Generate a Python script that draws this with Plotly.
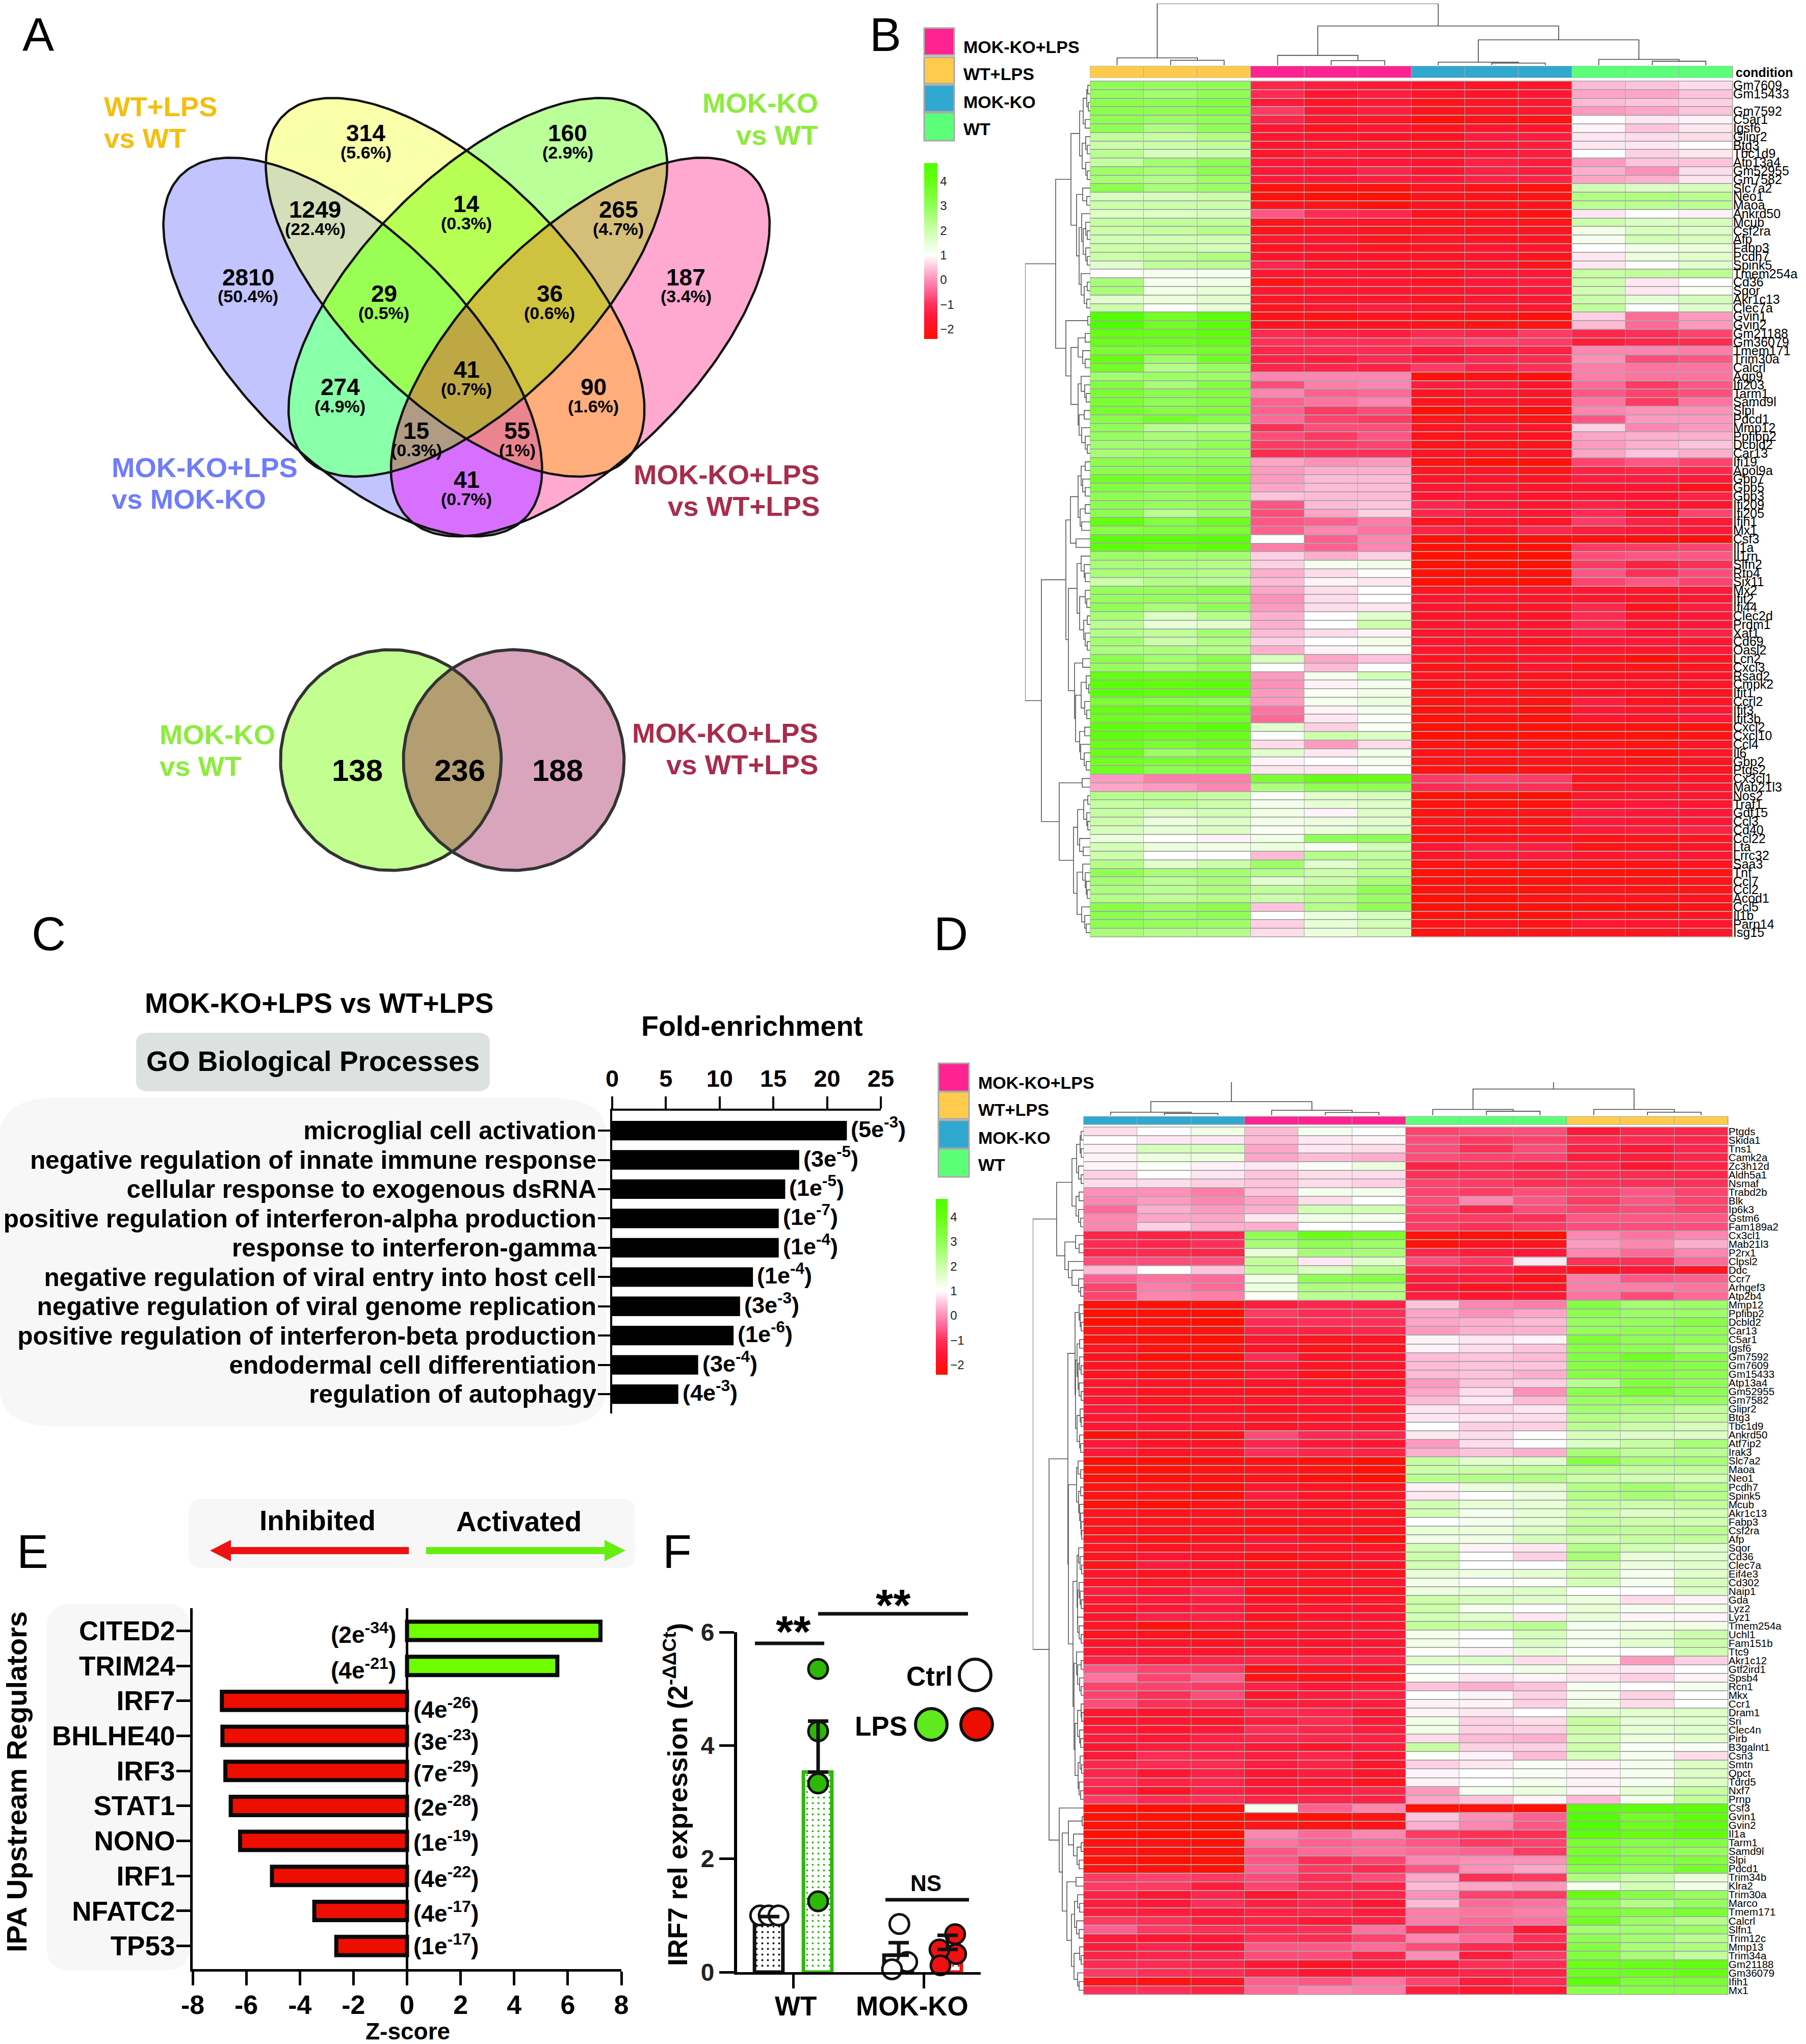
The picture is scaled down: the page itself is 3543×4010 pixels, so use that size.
import plotly.graph_objects as go
import numpy as np

W, H = 3543, 4010
FONT = "Liberation Sans"

# ---------- DATA ----------
genes_b = ["Gm7609","Gm15433","","Gm7592","C5ar1","Igsf6","Glipr2","Btg3","Tbc1d9","Atp13a4","Gm52955","Gm7582","Slc7a2","Neo1","Maoa","Ankrd50","Mcub","Csf2ra","Afp","Fabp3","Pcdh7","Spink5","Tmem254a","Cd36","Sqor","Akr1c13","Clec7a","Gvin1","Gvin2","Gm21188","Gm36079","Tmem171","Trim30a","Calcrl","Aqp9","Ifi203","Tarm1","Samd9l","Slpi","Pdcd1","Mmp12","Ppfibp2","Dcbld2","Car13","Ifi19","Apol9a","Gbp7","Gbp5","Gbp3","Ifi209","Ifi205","Ifih1","Mx1","Csf3","Il1a","Il1rn","Slfn2","Rtp4","Six11","Mx2","Ifit2","Ifi44","Clec2d","Prdm1","Xaf1","Cd69","Oasl2","Lcn2","Cxcl3","Rsad2","Cmpk2","Ifit1","Ccrl2","Ifit3","Ifit3b","Cxcl2","Cxcl10","Ccl4","Il6","Gbp2","Ptgs2","Cx3cl1","Mab21l3","Nos2","Traf1","Gdf15","Ccl3","Cd40","Ccl22","Lta","Lrrc32","Saa3","Tnf","Ccl7","Ccl2","Acod1","Ccl5","Il1b","Parp14","Isg15"]
heat_b = [
[3,2.9,3,-1.2,-1.4,-1.5,-1.7,-1.8,-1.7,.4,.5,.7],
[2.9,2.7,3,-1.1,-1.6,-1.4,-1.7,-1.8,-1.6,.2,.2,.5],
[3.1,3,3.3,-1.5,-1.8,-1.6,-2,-1.8,-1.7,.4,.5,.6],
[3.1,3,3.3,-.9,-1.6,-1.4,-2,-1.8,-1.7,.1,.2,.5],
[3,2.8,3,-1.2,-1.6,-1.8,-2.2,-2,-2.1,1,.8,.9],
[3,2.5,3,-1.6,-1.9,-1.6,-1.9,-1.7,-1.7,.9,.5,.8],
[2.2,2.1,2.5,-1.6,-1.7,-1.8,-1.9,-1.4,-1.4,.8,.7,.7],
[2,2,2.2,-1.7,-1.7,-1.5,-1.8,-1.5,-1.4,.8,.8,1],
[2.3,1.8,2,-1.7,-1.4,-1.6,-1.7,-1.5,-1.4,1,.6,.8],
[2.1,2.7,3,-1.5,-1.6,-1.5,-1.6,-1.3,-1.4,.1,.5,.5],
[2.8,2.6,3.1,-1.5,-1.5,-1.2,-1.6,-1.3,-1.4,.3,0,.7],
[2.6,2.4,2.8,-1.5,-1.5,-1.4,-1.5,-1.3,-1.3,.2,.3,.8],
[3.1,2.6,2.8,-2.2,-2.2,-2.2,-1.9,-2.1,-2.2,1.9,1.7,1.8],
[1.8,1.8,2,-2.2,-2.3,-2.3,-2,-2,-2.1,2.4,2.5,2.3],
[2,2,2,-2,-2,-2.2,-1.9,-2,-2,2.3,2.3,2.3],
[1.7,1.7,1.8,-.6,-1.1,-1.2,-1.9,-2,-2.1,.8,1,.9],
[2.1,2.2,2.2,-2,-1.8,-1.8,-2,-1.9,-2,2,1.7,1.8],
[2,2.1,2.4,-2,-1.8,-1.9,-1.9,-1.9,-1.9,1.3,1.8,1.7],
[1.9,1.9,1.9,-1.7,-1.7,-2,-1.8,-1.9,-1.9,1.2,1.9,1.8],
[2,2,1.8,-1.9,-1.7,-1.9,-1.8,-1.6,-1.7,1,1.3,1.4],
[2,2.2,2.5,-1.7,-1.8,-1.8,-1.8,-1.7,-2,.8,1.4,1.6],
[1.6,2.2,2.3,-1.2,-1.6,-1.7,-1.8,-1.7,-2,.8,1,1.6],
[1,1.2,1.2,-1.6,-1.6,-1.7,-1.8,-1.5,-1.5,2.1,2.2,2.3],
[2.6,1.2,1.3,-2.1,-1.7,-1.6,-1.8,-1.5,-1.4,2,.8,1],
[2.6,1.3,1.5,-1.6,-1.6,-1.7,-1.7,-1.6,-1.5,1.9,.8,1.1],
[1.6,1.4,1.6,-1.8,-1.7,-1.7,-1.9,-1.6,-1.6,2,1.5,1.8],
[2,1.1,1.5,-1.9,-1.7,-1.4,-1.7,-1.6,-1.7,2.2,1,1.6],
[4.6,3.7,4.3,-2,-2.1,-1.9,-2,-2.1,-2.2,.6,-.4,.1],
[4.7,3.7,4.3,-1.9,-1.9,-1.9,-2,-2.1,-2.1,.4,-.4,.1],
[4,3.9,4.2,-1.1,-1.3,-1.4,-1.1,-1.2,-.9,-1.2,-1,-.8],
[3.9,3.8,4.1,-1,-1,-1,-.9,-.8,-.9,-1.4,-1.2,-1.1],
[3.5,3.4,3.6,-1.2,-1.1,-1.1,-1.5,-1.4,-1.3,-.1,-.1,-.2],
[4,2.8,3.7,-1.3,-1.4,-1.1,-1.4,-1.1,-1.1,0,-.7,-.6],
[3.7,2.4,2.9,-1.2,-1.2,-1.3,-.9,-1.2,-1,-.2,-.3,-.3],
[2.7,2.8,2.8,-.1,-.1,-.1,-2.2,-2.1,-2.2,-.2,-.3,-.3],
[3.3,2.6,3.3,-.7,-.2,-.1,-1.4,-1.4,-1.7,-.4,-.9,-.6],
[3.5,3.1,3.3,-.1,-.5,-.4,-1.9,-1.6,-1.8,-.6,-.8,-.7],
[3.5,3,3.3,-.5,-.3,-.1,-1.9,-1.7,-1.8,-.3,-.9,-.3],
[3.6,3.2,3.4,-.5,-.9,-.7,-2.3,-2.1,-2.2,-.1,0,0],
[3.2,3.6,3.2,-.4,-.8,-.9,-2,-1.9,-2.1,-.6,.1,.1],
[3,2.3,2.4,-1,-.7,-.7,-1.9,-1.6,-1.8,.6,-.1,.1],
[2.9,2.6,2.8,-.7,-.9,-.6,-2,-1.9,-1.9,.2,.3,.3],
[2.7,2.7,3,-.9,-.9,-.8,-2,-2,-2,.1,.3,.5],
[2.6,2.8,2.9,-1.1,-1,-1,-1.8,-1.9,-1.8,.2,.5,.3],
[3.1,3,3.1,.2,0,.1,-2.1,-2.3,-2.2,-.8,-.6,-.8],
[3.1,3,3.2,.1,.3,.3,-1.9,-1.8,-2,-1.3,-1.2,-1.2],
[3.7,3.5,3.6,.1,.4,.4,-1.8,-1.7,-1.9,-1.4,-1.4,-1.5],
[3.3,3,3.3,.2,.4,.4,-1.6,-1.6,-1.7,-1.7,-1.6,-2],
[3,2.9,3,.5,.4,.4,-1.6,-1.5,-1.7,-1.6,-1.6,-1.3],
[3.1,2.9,3,-.6,.4,.5,-1.2,-1.5,-1.7,-1.3,-1.5,-1.7],
[3.1,2.3,2.8,-.7,.2,.6,-1.2,-1.4,-1.6,-1.1,-1.7,-.8],
[4.1,3.3,3.8,-.6,-.5,-.2,-1.9,-1.7,-1.8,-.9,-1.3,-1.5],
[3.2,3.3,3.5,-.5,-.1,-.3,-1.3,-1.6,-1.2,-1.4,-1.5,-1.5],
[4.3,4.2,4.4,1,-.5,-.1,-2.2,-2.2,-2.2,-2.1,-2.2,-2.2],
[4.3,4,4.2,-.2,-.5,-.1,-2.3,-2.3,-2.3,-.9,-.9,-.8],
[2.8,2.7,2.7,.6,.3,.6,-2.3,-2.3,-2.3,-.7,-.6,-.6],
[2.6,2.5,2.4,.6,1.2,1.3,-2.3,-2.3,-2.3,-.9,-1.3,-1],
[2.6,2.5,2.4,.3,.7,1,-2.3,-2.2,-2.2,-.6,-1,-.7],
[2,2.4,2.3,.4,.9,.8,-2.3,-2.3,-2.3,-.8,-.6,-.8],
[2.9,2.9,3.2,.2,.7,1,-1.9,-1.7,-1.7,-1.6,-1.7,-1.5],
[2.9,2.9,2.8,0,.7,1,-1.7,-1.7,-1.8,-1.7,-1.8,-1.6],
[3,2.6,3,.1,.7,.8,-1.7,-1.9,-1.8,-1.2,-2,-1.4],
[2.6,1.7,2.4,.3,1,1.6,-1.8,-1.7,-1.8,-1.1,-1.7,-1.5],
[2.3,1.5,1.6,.3,1,2,-1.7,-1.6,-1.7,-1.1,-1.6,-1.5],
[2.4,2.2,2.7,.4,.7,.9,-1.7,-1.6,-1.6,-1.3,-1.6,-1.3],
[2.7,2,2.5,.6,1,1.3,-1.7,-1.7,-1.9,-1.5,-1.5,-1.6],
[2.5,2.5,2.4,.3,.9,1.1,-1.7,-1.8,-1.8,-1.6,-1.7,-1.5],
[3.1,2.7,3.1,1.8,.2,.5,-1.9,-1.9,-1.7,-2,-2.2,-1.9],
[2.9,2.6,2.9,1,.4,1,-2,-2,-1.7,-2,-2,-1.9],
[4,3.9,4,.1,1.2,1.9,-1.9,-1.9,-2,-1.9,-1.9,-1.8],
[4.3,4.1,4.2,0,.9,1.2,-2,-1.9,-1.9,-1.8,-1.8,-1.8],
[4.3,4.1,4.2,.1,1.1,1.3,-2.1,-1.9,-2,-1.8,-1.9,-1.9],
[3.5,3.2,3,.1,1.2,1.4,-2.1,-2,-2.1,-1.4,-1.9,-1.8],
[4,3.9,3.9,-.3,.9,1.2,-2.2,-2.1,-2.2,-1.6,-1.7,-1.6],
[3.8,3.6,3.6,-.4,.8,1.1,-2.2,-2.1,-2.2,-1.7,-1.8,-1.5],
[4.2,4,4.4,1.6,.6,1.1,-2.3,-2.2,-2.2,-2.2,-2.2,-2.2],
[4.2,3.9,3.9,1,2,1.7,-2.3,-2.2,-2.2,-2.2,-2.2,-2.1],
[3.9,3.5,3.8,.7,.1,.7,-2.1,-2.2,-2.1,-2,-2.1,-1.8],
[3.9,2.8,3.1,1.6,.8,1.3,-2,-2,-2,-2,-2.2,-1.8],
[3.7,3.5,3.6,.9,1,1.2,-2.1,-2,-2,-2,-2.1,-1.9],
[3.7,3.1,3.2,.8,.8,1,-2.1,-2.2,-2.1,-2,-1.9,-1.9],
[.1,-.2,-.2,3.5,4,3.9,-.9,-.8,-.9,-1.9,-1.8,-1.8],
[.2,.1,-.1,2.5,3,3,-1.1,-1,-1,-1.9,-1.8,-1.7],
[2.4,2.3,2.1,1.1,1.6,1.8,-2.3,-2.3,-2.4,-1.7,-1.6,-1.7],
[2.1,2.2,2,1.2,1.5,1.7,-2.2,-2.2,-2.2,-1.6,-1.5,-1.6],
[2.1,1.7,1.9,1.3,.9,1.7,-2.1,-2.1,-2,-1.4,-1.5,-1.5],
[2,1.4,1.7,1.3,1.4,1.6,-2,-2,-2.1,-1.5,-1.6,-1.5],
[1.8,1.5,1.7,1.1,1.4,1.7,-2,-2.1,-2,-1.5,-1.4,-1.3],
[1.4,1,.9,1.3,3,3,-2.2,-2,-1.9,-2.1,-2,-1.9],
[1.9,1.4,1.3,1.4,1.2,1.9,-1.6,-1.3,-1.4,-2,-2,-1.8],
[2,1,1,.4,2.4,2.2,-1.8,-1.5,-1.4,-1.7,-1.5,-1.6],
[2.4,1.6,2,2.8,1.6,2.2,-2.1,-2.1,-2.1,-2.1,-2,-1.9],
[3,2.6,2.7,2.4,2,2.3,-2.3,-2.3,-2.3,-2.2,-2.2,-2.1],
[2.7,2.3,2.6,1.6,2,2.6,-2.2,-2.2,-2.2,-2.1,-2.1,-2],
[2.5,2.3,2.5,2.2,2.4,3,-2.2,-2.2,-2.2,-2,-2.1,-2],
[2.4,2.2,2.4,2,2.3,2.8,-2.3,-2.2,-2.1,-2,-1.9,-1.9],
[3.2,2.9,3.1,.5,2.4,3,-2.2,-2.2,-2.2,-2.2,-2.2,-2.1],
[3.1,2.8,3,1,1.4,1.8,-2.2,-2.2,-2.2,-1.9,-1.9,-1.8],
[3,2.9,2.8,.6,1.5,1.9,-2.1,-2,-2.1,-1.6,-1.7,-1.7],
[2.6,2.4,2.4,.7,1.4,1.8,-2.1,-2,-2,-1.9,-1.9,-1.8],
]
groups_b = [1,1,1,0,0,0,2,2,2,3,3,3]

genes_d = ["Ptgds","Skida1","Tns1","Camk2a","Zc3h12d","Aldh5a1","Nsmaf","Trabd2b","Blk","Ip6k3","Gstm6","Fam189a2","Cx3cl1","Mab21l3","P2rx1","Clpsl2","Ddc","Ccr7","Arhgef3","Atp2b4","Mmp12","Ppfibp2","Dcbld2","Car13","C5ar1","Igsf6","Gm7592","Gm7609","Gm15433","Atp13a4","Gm52955","Gm7582","Glipr2","Btg3","Tbc1d9","Ankrd50","Atf7ip2","Irak3","Slc7a2","Maoa","Neo1","Pcdh7","Spink5","Mcub","Akr1c13","Fabp3","Csf2ra","Afp","Sqor","Cd36","Clec7a","Eif4e3","Cd302","Naip1","Gda","Lyz2","Lyz1","Tmem254a","Uchl1","Fam151b","Ttc9","Akr1c12","Gtf2ird1","Spsb4","Rcn1","Mkx","Ccr1","Dram1","Sri","Clec4n","Pirb","B3galnt1","Csn3","Smtn","Qpct","Tdrd5","Nxf7","Prnp","Csf3","Gvin1","Gvin2","Il1a","Tarm1","Samd9l","Slpi","Pdcd1","Trim34b","Klra2","Trim30a","Marco","Tmem171","Calcrl","Slfn1","Trim12c","Mmp13","Trim34a","Gm21188","Gm36079","Ifih1","Mx1"]
heat_d = [
[.7,1,1.3,.4,1.2,1,-.8,-.7,-.7,-1.5,-1.2,-1.2],
[1,.8,.8,.4,.8,.9,-.7,-.9,-.8,-1.1,-1.1,-1.2],
[.9,1.8,1.8,.2,.8,.7,-.7,-1,-.7,-1.3,-1.5,-1.2],
[.9,1.4,1.4,.2,.4,.3,-.7,-.8,-.8,-1.4,-1.4,-1.2],
[.9,1.1,.9,.8,1.1,1.4,-1.3,-1.1,-1.3,-1.2,-1.6,-1.3],
[.6,1,.8,.5,.7,.7,-1,-1,-1.1,-1.1,-1.1,-1.2],
[.7,.7,.6,.5,.7,.6,-.8,-.9,-1,-1,-1,-1],
[0,0,-.2,.5,1.2,1.2,-.8,-.9,-.7,-.8,-.6,-.8],
[-.1,.1,-.1,.2,.7,1,-.7,-.1,-.6,-.9,-.6,-.8],
[-.4,.3,.1,.3,1.9,1.9,-.8,-1.2,-.7,-.8,-.7,-.8],
[-.1,.2,.2,.8,1.3,1.2,-.9,-.9,-1,-.6,-.6,-.6],
[-.1,.6,.3,.3,1,1,-.9,-1,-.9,-.7,-.7,-.7],
[-1.2,-1.3,-1.2,3,3.9,3.6,-2.2,-2.2,-2.3,-.1,-.3,-.1],
[-1.1,-1.2,-1,2.6,3,2.8,-2.2,-1.9,-1.9,.1,-.1,.3],
[-1.2,-1.1,-1.2,1.5,2.6,2.6,-1.2,-1.4,-1.5,-.1,-.4,-.1],
[-.7,-.7,-.7,2.2,.8,1.6,-.7,-.9,.8,-1,-1,-.4],
[.4,1,.5,2.2,1.7,2.3,-1.2,-1.3,-1.6,-1.9,-1.5,-1.8],
[-.5,-.3,-.4,1.3,3,3.2,-1.4,-1.4,-2,-.2,-.6,-.5],
[-.8,-.2,-.4,1.4,2.5,2.5,-1.5,-1.9,-1.8,-.2,-.2,-.3],
[-.8,-.1,-.2,1.1,2.3,2.4,-1.4,-1.6,-1.5,-.3,-.7,-.4],
[-2.2,-2.2,-2.1,-1.4,-1.2,-1.3,.5,-.1,-.2,3.3,2.7,2.8],
[-2.3,-2.2,-2.3,-.9,-1.1,-1,.2,0,.2,3.1,2.8,2.8],
[-2.4,-2.3,-2.4,-1.1,-1,-1,.2,.3,.4,2.9,2.9,3.2],
[-2,-2.1,-2.1,-1.3,-1.3,-1.2,.1,.3,.3,2.9,3,3],
[-2.2,-2.3,-2.4,-1.6,-1.9,-1.8,.9,.8,.9,3.4,3,3],
[-1.9,-2.1,-2.1,-1.8,-2,-1.9,.9,.7,.5,3.2,3,2.6],
[-1.9,-2.2,-2.2,-1.1,-1.8,-1.7,.4,.5,.4,3.3,3.7,3.2],
[-1.9,-2,-2,-1.6,-1.8,-1.7,.4,.5,.5,3.2,3.3,3.2],
[-1.9,-2.1,-2,-1.5,-2,-1.7,.4,.5,.3,3.2,3.3,3.1],
[-1.7,-1.8,-1.9,-1.8,-1.7,-1.9,.1,.5,.6,2.3,3.3,3],
[-1.7,-1.9,-1.8,-1.9,-1.7,-1.5,.2,.7,0,3.1,3.5,3],
[-1.6,-1.9,-1.8,-1.7,-1.6,-1.6,.4,.8,.4,2.8,2.8,2.9],
[-1.5,-1.8,-1.8,-1.9,-1.8,-2,.8,.6,.8,2.7,2.5,2.2],
[-1.6,-1.8,-1.7,-1.8,-1.8,-1.7,.8,.8,.7,2.4,2.3,2.1],
[-1.6,-1.5,-1.7,-1.8,-1.6,-1.7,1,.6,.6,2.3,2,1.8],
[-2.2,-2,-2.1,-.7,-1.1,-1.2,.8,.7,1,1.8,1.7,1.7],
[-1.5,-1.8,-1.8,-1.2,-1.5,-1.6,.1,.7,1,1.7,2.1,2.6],
[-1.5,-1.8,-1.7,-1,-1.2,-1.3,.3,.5,.3,2.6,2.2,2.3],
[-2.4,-2.3,-2.2,-2.1,-2.2,-2.3,2.1,1.6,1.6,3.2,2.6,2.6],
[-2.3,-2.2,-2.1,-2,-2.1,-2.3,2,2,2.2,2.3,2.1,2.2],
[-2.2,-2.2,-2.1,-2,-2.2,-2.3,2.3,2.4,2.4,2,1.9,1.9],
[-2.1,-2,-2.2,-1.7,-1.9,-1.9,.9,1.4,1.6,2.4,2.7,2.4],
[-2.1,-2,-2.2,-1.4,-1.8,-1.8,.8,1,1.4,2.4,2.6,2.4],
[-2.2,-2.3,-2,-1.8,-1.9,-1.8,1.9,1.5,1.5,2.1,2,2.2],
[-1.9,-2,-1.9,-1.8,-1.8,-1.9,1.9,1.2,1.5,2,1.7,1.9],
[-2,-2,-1.9,-2,-1.9,-1.9,1,1.2,1.5,2.1,2,1.9],
[-2,-1.9,-2,-2.1,-2,-1.9,1.5,1.4,1.7,2.3,2.2,2.3],
[-1.9,-2.1,-1.9,-1.6,-1.8,-2.2,1.3,1.3,1.8,1.9,2.1,2.2],
[-1.9,-1.9,-1.8,-1.7,-1.8,-1.8,1.9,.9,.8,2.4,1.9,1.6],
[-1.9,-1.6,-1.8,-2.1,-1.8,-1.7,2,1,.6,2.6,1.5,1.6],
[-2,-1.4,-1.7,-2,-2,-1.8,1.9,1,1,2,1.4,1.6],
[-1.7,-1.9,-1.8,-1.7,-1.8,-1.9,1.5,1.3,1.5,2,1.2,1.6],
[-1.8,-1.8,-1.6,-1.8,-1.8,-1.7,1.3,1,1.1,1.9,1.2,1.8],
[-1.4,-1.5,-1.2,-2,-2,-1.9,1.4,1.5,1.7,1,1,1.7],
[-1.6,-1.5,-1.4,-1.8,-1.8,-1.7,2,1.8,1.6,1.4,.7,.9],
[-1.7,-1.5,-1.4,-1.7,-1.7,-1.7,2,1.2,1,1.5,1.2,1.3],
[-1.7,-1.3,-1.3,-1.9,-1.7,-1.6,1.9,1.6,.8,1.5,.9,.9],
[-1.8,-2.2,-1.8,-1.9,-1.7,-1.6,2.2,2.1,2.3,1.2,1.3,1.3],
[-1.9,-1.9,-2,-1.7,-1.7,-1.5,1.2,1,1.8,1.2,1.5,2],
[-1.7,-1.7,-1.8,-1.7,-1.7,-1.6,1.3,1,1.7,1.2,1.6,2],
[-1.6,-1.6,-1.7,-1.6,-1.7,-1.5,1,.9,1.5,1,1,1.9],
[-1.3,-1.4,-1.2,-1.2,-1.2,-1.3,1.6,1.7,.7,1.3,.1,.6],
[-.6,-.8,-.9,-2,-1.8,-1.8,1,1,1.3,.8,.8,1],
[-.3,-.8,-.5,-2,-2,-1.9,1.1,.8,.9,.8,.6,.9],
[-.8,-.8,-.9,-1.3,-1.5,-1.4,.5,.3,.5,1.2,1,1.2],
[-.8,-1,-.7,-1.7,-1.4,-1.3,1,.9,.6,1.2,.6,1],
[-.7,-1,-1.1,-1.4,-1.4,-1.4,.9,.9,.6,1.3,.7,1],
[-1.6,-1.7,-1.5,-1.1,-1.2,-1.6,.9,.8,1,1.6,1.6,1.7],
[-1.7,-1.6,-1.7,-1.4,-1.1,-1.5,1.3,.6,.7,2.1,1.5,1.6],
[-1.5,-1.7,-1.5,-1,-1.2,-1.4,1.3,.6,.6,2,1.5,1.6],
[-1.4,-1.5,-1.3,-1.2,-1.2,-1.3,.7,.4,.3,1.9,1.4,1.6],
[-1.6,-1.4,-1.3,-1.5,-1.7,-1.4,2.1,.6,.6,2,1.1,1.1],
[-1.5,-1.1,-1.2,-1.4,-1.2,-1.6,1.1,.9,.4,1.8,1.2,.7],
[-1.2,-1.1,-1.1,-1.4,-1.3,-1.7,.6,.8,1.1,.9,1.2,1.7],
[-1.2,-1.6,-1.3,-1.6,-1.4,-1.7,.9,1,1.1,.9,1.2,1.7],
[-1.1,-1.3,-1.2,-1.6,-1.7,-1.9,.9,1,1.2,.9,1.2,1.7],
[-1.3,-1.8,-1.3,-1.5,-1.4,-1.2,.1,1.2,1.4,.9,1.5,2.1],
[-.9,-1.1,-1,-1.3,-1.2,-1.3,.2,.5,.9,.4,1.3,2.2],
[-2.3,-2.3,-2.3,1.2,-.5,-.1,-2.3,-2.2,-2.3,4.3,4.2,4.2],
[-2.3,-2.3,-2.3,-2.2,-2.3,-2.1,.5,0,-.5,4.6,3.7,4.2],
[-2.2,-2.2,-2.3,-2,-2.1,-2,.3,-.1,-.6,4.7,3.8,4.2],
[-2.3,-2.4,-2.4,-.1,-.4,-.1,-.9,-1,-1,4.3,4,4.2],
[-2.1,-2.1,-2.2,-.3,-.5,-.4,-.6,-.9,-.8,3.5,3.2,3.3],
[-2.1,-2.2,-2.2,-.6,-.4,-.3,-.4,-.5,-.9,3.5,3.1,2.9],
[-2.3,-2.4,-2.3,-.6,-1,-.8,-.1,0,0,3.6,3.2,3.3],
[-2.1,-2.2,-2.3,-.5,-.9,-1.1,-.6,0,.2,3.2,3,3.6],
[-.9,-.8,-.9,-.7,-1,-.7,.2,-1,-.9,2.5,2,1.4],
[-.9,-.9,-1.4,-.8,-1.1,-1.3,.4,.2,.1,1.2,1.9,1.3],
[-1.3,-1.6,-1.2,-1.6,-1.3,-1.2,0,-.8,-.9,4,3.2,2.9],
[-1.4,-1.5,-1,-1.3,-1.2,-1.6,.4,-.4,-.3,3,2.4,2.9],
[-1.4,-1.4,-1.5,-1.3,-1.2,-1.4,-.2,-.3,-.2,3.5,3.3,3.5],
[-.9,-1,-1.4,-1.3,-1.5,-1.3,-.2,-.4,-.3,3.7,2.8,2.4],
[-.5,-.9,-1,-1.1,-1,-.3,-1,-.6,-1.5,2.7,2.7,2.8],
[-1.4,-1.6,-1.5,-1,-1.1,-.8,-.1,-.4,-1,3,2.7,2.3],
[-1.4,-1.2,-1.5,-.6,-.6,-.4,-.7,-1.1,-1.4,3.3,2.6,2.5],
[-1.3,-1.2,-1.2,-.7,-.7,-1.2,0,-1.4,-.9,3.3,2.6,2.2],
[-1.1,-1.1,-1.2,-1.5,-1.8,-1.5,-1.4,-1,-1.1,3.9,3.9,4.1],
[-.9,-1,-1.1,-1.3,-1.6,-1.4,-1.4,-1.2,-1.3,3.8,3.8,4],
[-2,-2.1,-1.8,-.5,-.6,-.3,-.8,-1.4,-1.1,4.2,3.4,3.5],
[-1,-1,-1.3,-.4,-.1,-.2,-1.4,-1.6,-1.5,3.1,3.2,3.2],
]
groups_d = [2,2,2,0,0,0,3,3,3,1,1,1]
condition_names = ["MOK-KO+LPS","WT+LPS","MOK-KO","WT"]
condition_colors = ["#FE2390","#FFCB4C","#30A8D0","#5CFF78"]

# dendrograms: [height, left, right], 0 = one leaf, taken in order
col_tree_b = [121,[14.5,0,[9.7,0,0]],[77,[19.4,0,[9,0,0]],[49.7,[6,0,[4.2,0,0]],[11.5,0,[7.9,0,0]]]]]
col_tree_d = [65,[26.7,[6,0,[3.6,0,0]],[9.7,0,[5.5,0,0]]],[51.5,[11.5,0,[7.9,0,0]],[11.5,0,[6,0,0]]],"open"]
row_tree_b = [128,
 [68,
  [38,
   [21,[14,[7,[5,0,0],[4,0,0]],[10,0,0]],[16,[9,0,[6,0,0]],[9,0,[6,0,0]]]],
   [27,[15,0,[7,0,0]],
    [22,[17,0,[14,[9,0,[6,0,0]],[9,0,[6,0,0]]]],[18,0,[12,[6,0,0],[7,0,0]]]]]],
  [48,[5,0,0],
   [38,[24,[10,0,0],[15,0,[10,0,0]]],
    [24,[18,0,[11,0,[8,0,0]]],[22,[12,0,0],[17,0,[10,0,[6,0,0]]]]]]]],
 [96,
  [48,
   [39,[24,[18,[10,0,0],[15,0,[10,0,0]]],[20,[10,0,0],[17,0,0]]],[28,0,0]],
   [43,
    [26,[18,0,[12,0,[10,0,0]]],[21,[10,0,[7,0,0]],[13,[6,0,0],[10,0,[6,0,0]]]]],
    [31,[15,0,0],[29,[18,[8,0,[3,0,0]],[11,0,[7,0,0]]],[21,[11,0,0],[19,0,[12,0,[8,0,0]]]]]]]],
  [61,[16,0,0],
   [33,
    [25,[13,[5,0,0],[7,0,[5,0,0]]],[21,0,[14,0,0]]],
    [26,[15,0,[10,0,[8,0,[6,0,0]]]],[17,0,[11,0,[8,0,0]]]]]]]]
row_tree_d = [100,
 [53,
  [23,[14,[7,[5,0,0],[5,0,0]],[10,0,[5,0,0]]],[15,[9,0,0],[10,0,[6,0,0]]]],
  [37,[16,0,[9,0,0]],[30,0,[23,0,[10,0,[6,0,0]]]]]],
 [68,
  [31,
   [17,[9,0,[7,0,[5,0,0]]],[16,[13,[8,0,0],[11,[8,0,[5,0,0]],[9,0,[5,0,0]]]],[13,[7,0,[5,0,0]],[8,0,[6,0,0]]]]],
   [30,
    [14,[11,0,[6,0,0]],[10,[6,0,0],[8,0,[6,0,[5,0,[4,0,0]]]]]],
    [21,
     [13,[10,0,[7,0,[4,0,0]]],[12,[9,0,[7,0,[5,0,0]]],[12,0,[9,0,[5,0,0]]]]],
     [19,[14,0,[12,[5,0,0],[8,0,[5,0,0]]]],[17,[12,[5,0,[4,0,0]],[8,0,[6,0,0]]],[11,[7,0,[4,0,0]],[9,0,[6,0,0]]]]]]]],
  [48,0,
   [42,
    [30,[3,0,0],[20,0,[13,[5,0,0],[9,0,0]]]],
    [33,[15,0,0],
     [24,[18,[12,0,[8,0,0]],[14,0,[9,0,0]]],[19,[8,0,[5,0,0]],[12,0,[9,0,0]]]]]]]]]

venn_counts = ["2810","1249","314","14","160","265","187","29","36","274","41","90","15","55","41"]
venn_pcts = ["(50.4%)","(22.4%)","(5.6%)","(0.3%)","(2.9%)","(4.7%)","(3.4%)","(0.5%)","(0.6%)","(4.9%)","(0.7%)","(1.6%)","(0.3%)","(1%)","(0.7%)"]
two_set_counts = ["138","236","188"]

go_terms = ["microglial cell activation","negative regulation of innate immune response","cellular response to exogenous dsRNA","positive regulation of interferon-alpha production","response to interferon-gamma","negative regulation of viral entry into host cell","negative regulation of viral genome replication","positive regulation of interferon-beta production","endodermal cell differentiation","regulation of autophagy"]
go_fold = [21.84,17.4,16.1,15.5,15.5,13.1,11.9,11.3,8.0,6.15]
go_p = ["(5e<sup>-3</sup>)","(3e<sup>-5</sup>)","(1e<sup>-5</sup>)","(1e<sup>-7</sup>)","(1e<sup>-4</sup>)","(1e<sup>-4</sup>)","(3e<sup>-3</sup>)","(1e<sup>-6</sup>)","(3e<sup>-4</sup>)","(4e<sup>-3</sup>)"]

ipa_names = ["CITED2","TRIM24","IRF7","BHLHE40","IRF3","STAT1","NONO","IRF1","NFATC2","TP53"]
ipa_z = [7.22,5.61,-6.91,-6.89,-6.78,-6.58,-6.23,-5.04,-3.46,-2.64]
ipa_p = ["(2e<sup>-34</sup>)","(4e<sup>-21</sup>)","(4e<sup>-26</sup>)","(3e<sup>-23</sup>)","(7e<sup>-29</sup>)","(2e<sup>-28</sup>)","(1e<sup>-19</sup>)","(4e<sup>-22</sup>)","(4e<sup>-17</sup>)","(1e<sup>-17</sup>)"]

irf7_pos = [-0.5,0.5,2.146,3.146]
irf7_mean = [0.98,3.53,0.3,0.4]
irf7_err = [0,0.9,0.22,0.25]
irf7_wt_ctrl_x, irf7_wt_ctrl = [-0.675,-0.5,-0.3],[1,1,1]
irf7_wt_lps_x, irf7_wt_lps = [0.51,0.51,0.51,0.51],[5.35,4.25,3.33,1.25]
irf7_ko_ctrl_x, irf7_ko_ctrl = [2.17,2.33,2.02],[0.85,0.18,0.05]
irf7_ko_lps_x, irf7_ko_lps = [3.31,3.33,2.99,3.01],[0.67,0.32,0.4,0.12]

# ---------- HELPERS ----------
fig = go.Figure()
layout = dict(width=W, height=H, margin=dict(l=0,r=0,t=0,b=0), paper_bgcolor="white", plot_bgcolor="rgba(0,0,0,0)",
              showlegend=False, font=dict(family=FONT, color="black"), template="none")
shapes, annos = [], []
n_ax = 0
def hidden(): return dict(visible=False, showgrid=False, zeroline=False, fixedrange=True)
def ax(xpx, ypx, xr, yr, xo=None, yo=None):
    global n_ax
    n_ax += 1
    n = n_ax
    sx = "" if n == 1 else str(n)
    xa = hidden(); xa.update(domain=[xpx[0]/W, xpx[1]/W], range=list(xr), anchor=f"y{sx}")
    ya = hidden(); ya.update(domain=[1-ypx[1]/H, 1-ypx[0]/H], range=list(yr), anchor=f"x{sx}")
    if xo: xa.update(xo)
    if yo: ya.update(yo)
    layout[f"xaxis{sx}"] = xa
    layout[f"yaxis{sx}"] = ya
    return f"x{sx}", f"y{sx}"

# full page axis in pixel units
PX, PY = ax((0,W),(0,H),(0,W),(H,0))
def T(x, y, text, size, color="black", bold=True, anchor="center", rot=0, xref=None, yref=None, xs=0, ys=0):
    f = dict(family=FONT, size=size, color=color, weight=700 if bold else 400)
    annos.append(dict(x=x, y=y, xref=xref or PX, yref=yref or PY, text=text, font=f, showarrow=False,
                      xanchor=anchor, yanchor="middle", textangle=rot, xshift=xs, yshift=ys, borderpad=0, borderwidth=0))
def rrect(x0,y0,x1,y1,rx,ry,color):
    p = (f"M{x0+rx},{y0} L{x1-rx},{y0} Q{x1},{y0} {x1},{y0+ry} L{x1},{y1-ry} Q{x1},{y1} {x1-rx},{y1} "
         f"L{x0+rx},{y1} Q{x0},{y1} {x0},{y1-ry} L{x0},{y0+ry} Q{x0},{y0} {x0+rx},{y0} Z")
    shapes.append(dict(type="path", path=p, xref=PX, yref=PY, fillcolor=color, line=dict(width=0), layer="below"))
def poly(pts,color):
    p = "M"+" L".join(f"{a},{b}" for a,b in pts)+" Z"
    shapes.append(dict(type="path", path=p, xref=PX, yref=PY, fillcolor=color, line=dict(width=0), layer="below"))

# ---------- VENN ----------
Z = 1750/1568
def ellipse(cx,cy,a,b,deg,n=240):
    t = np.linspace(0,2*np.pi,n,endpoint=False)
    c,s = np.cos(np.radians(deg)),np.sin(np.radians(deg))
    return np.c_[cx+a*np.cos(t)*c-b*np.sin(t)*s, cy+a*np.cos(t)*s+b*np.sin(t)*c]
def clip(sub, cl):
    area = np.sum(cl[:,0]*np.roll(cl[:,1],-1)-np.roll(cl[:,0],-1)*cl[:,1])
    o = 1 if area>0 else -1
    out = list(map(tuple,sub))
    for i in range(len(cl)):
        a,b = cl[i],cl[(i+1)%len(cl)]
        inp,out = out,[]
        if not inp: break
        ins = lambda p:((b[0]-a[0])*(p[1]-a[1])-(b[1]-a[1])*(p[0]-a[0]))*o>=0
        for j in range(len(inp)):
            p,q = inp[j],inp[(j+1)%len(inp)]
            pi,qi = ins(p),ins(q)
            if pi: out.append(p)
            if pi!=qi:
                d1=(b[0]-a[0])*(p[1]-a[1])-(b[1]-a[1])*(p[0]-a[0])
                d2=(b[0]-a[0])*(q[1]-a[1])-(b[1]-a[1])*(q[0]-a[0])
                t=d1/(d1-d2)
                out.append((p[0]+t*(q[0]-p[0]),p[1]+t*(q[1]-p[1])))
    return np.array(out) if out else np.zeros((0,2))
E4 = {"B":ellipse(620*Z,610*Z,427*Z,198*Z,45),"Y":ellipse(800*Z,505*Z,427*Z,198*Z,45),
      "G":ellipse(840*Z,505*Z,427*Z,198*Z,-45),"P":ellipse(1020*Z,610*Z,427*Z,198*Z,-45)}
region_colors = {"B":"#C1C4FF","Y":"#FAFFA9","G":"#BBFF99","P":"#FFA8D0","BY":"#D4DEB8","BG":"#88FFA8","BP":"#D870FF",
  "YG":"#B8FF55","YP":"#FFAD7A","GP":"#D4BE78","BYG":"#99FF55","BYP":"#EA8590","BGP":"#B09C85","YGP":"#CFC23E","BYGP":"#BDA844"}
def fill(pts,color,line=None,lw=0):
    pts = np.vstack([pts,pts[:1]])
    fig.add_trace(go.Scatter(x=pts[:,0],y=pts[:,1],xaxis=PX,yaxis=PY,mode="lines" if line else "none",
        fill="toself" if color else None, fillcolor=color, line=dict(color=line or "black",width=lw), hoverinfo="skip"))
for key in sorted(region_colors,key=len):
    p = E4[key[0]]
    for k in key[1:]:
        p = clip(p,E4[k])
    if len(p)>2: fill(p,region_colors[key])
for k in "BYGP":
    fill(E4[k],None,"#111111",4.5)
C1,C2 = ellipse(687*Z,1336*Z,194*Z,194*Z,0),ellipse(903*Z,1336*Z,194*Z,194*Z,0)
fill(C1,"#C3FF90"); fill(C2,"#D9A5BC"); fill(clip(C1,C2),"#B39E72")
fill(C1,None,"#333333",6); fill(C2,None,"#333333",6)
venn_pos = [(436,487),(554,368),(643,234),(820,358),(998,234),(1087,368),(1206,487),(675,516),(966,516),(598,680),(820,650),(1043,680),(732,757),(909,757),(820,843)]
for (x,y),c,p in zip(venn_pos,venn_counts,venn_pcts):
    T(x*Z,y*Z,c,46); T(x*Z,(y+34)*Z,p,34)
for x,c in zip((628,808,980),two_set_counts):
    T(x*Z,1354*Z,c,60)
YEL,GRN,BLU,RED="#F5BE0F","#8CEC3C","#6F7CFB","#A82C4C"
T(183*Z,188*Z,"WT+LPS",54.5,YEL,anchor="left"); T(183*Z,243*Z,"vs WT",54.5,YEL,anchor="left")
T(1438*Z,181*Z,"MOK-KO",54.5,GRN,anchor="right"); T(1438*Z,238*Z,"vs WT",54.5,GRN,anchor="right")
T(196*Z,822*Z,"MOK-KO+LPS",54.5,BLU,anchor="left"); T(196*Z,878*Z,"vs MOK-KO",54.5,BLU,anchor="left")
T(1441*Z,835*Z,"MOK-KO+LPS",54.5,RED,anchor="right"); T(1441*Z,890*Z,"vs WT+LPS",54.5,RED,anchor="right")
T(280*Z,1292*Z,"MOK-KO",54.5,GRN,anchor="left"); T(280*Z,1347*Z,"vs WT",54.5,GRN,anchor="left")
T(1438*Z,1289*Z,"MOK-KO+LPS",54.5,RED,anchor="right"); T(1438*Z,1344*Z,"vs WT+LPS",54.5,RED,anchor="right")

# panel letters
for s,x,y in [("A",75,68),("B",1737,68),("C",95,1832),("D",1865,1832),("E",64,3044),("F",1328,3044)]:
    T(x,y,s,93,bold=False)

# ---------- HEATMAPS ----------
ZMIN,ZMAX=-2.4,4.74
stops=[(-2.4,"#FF1000"),(-1.5,"#FF1838"),(-1,"#FF3058"),(-.5,"#FF6090"),(0,"#FF90B8"),(.5,"#FFC4DC"),(1,"#FFFFFF"),
       (2,"#CCFFAA"),(3,"#90FF55"),(4,"#66FF11"),(4.74,"#4CFF00")]
cscale=[[(z-ZMIN)/(ZMAX-ZMIN),c] for z,c in stops]

def tree_segs(tree, horizontal):
    """horizontal=True: rows (x=height, y=leaf)."""
    xs,ys=[],[]
    cnt=[0]
    def add(pts):
        for p,h in pts:
            a,b=(h,p) if horizontal else (p,h)
            xs.append(a); ys.append(b)
        xs.append(None); ys.append(None)
    def walk(node):
        if node==0:
            cnt[0]+=1
            return cnt[0]-1,0
        h=node[0]
        pl,hl=walk(node[1]); pr,hr=walk(node[2])
        if len(node)>3:
            add([(pl,hl),(pl,h)]); add([(pr,hr),(pr,h)])
        else:
            add([(pl,hl),(pl,h),(pr,h),(pr,hr)])
        return (pl+pr)/2,h
    walk(tree)
    return xs,ys,cnt[0]

def heat(matrix,genes,groups,hx,hy,bary,coldend_y,col_tree,row_tree,rowdend_x,font,legend_x,legend_boxes,legend_ty,legend_tx,cb_x,cb_y):
    shapes.append(dict(type="rect",xref=PX,yref=PY,x0=hx[0],x1=hx[1],y0=hy[0],y1=hy[1],fillcolor="#A8A8A8",line=dict(color="#A8A8A8",width=1.5),layer="below"))
    xa,ya=ax(hx,hy,(-.5,11.5),(99.5,-.5),None,dict(visible=True,side="right",tickmode="array",tickvals=list(range(100)),ticktext=genes,
        ticks="",showline=False,tickfont=dict(family=FONT,size=font,color="black"),automargin=False))
    fig.add_trace(go.Heatmap(z=matrix,x=list(range(12)),y=list(range(100)),xaxis=xa,yaxis=ya,zmin=ZMIN,zmax=ZMAX,colorscale=cscale,
        xgap=1,ygap=2,hoverinfo="skip",
        colorbar=dict(x=cb_x[0]/W,xanchor="left",y=1-cb_y[0]/H,yanchor="top",len=(cb_y[1]-cb_y[0])/H,lenmode="fraction",
            thickness=cb_x[1]-cb_x[0],thicknessmode="pixels",tickmode="array",tickvals=[-2,-1,0,1,2,3,4],
            ticktext=["−2","−1","0","1","2","3","4"],ticks="",outlinewidth=0,xpad=0,ypad=0,tickfont=dict(family=FONT,size=24,color="#222222"))))
    # annotation bar
    xa2,ya2=ax(hx,bary,(-.5,11.5),(-.5,.5))
    n=len(condition_colors)
    cs=[]
    for i,c in enumerate(condition_colors):
        cs+=[[i/n,c],[(i+1)/n,c]]
    shapes.append(dict(type="rect",xref=PX,yref=PY,x0=hx[0],x1=hx[1],y0=bary[0],y1=bary[1],fillcolor="#A8A8A8",line=dict(color="#A8A8A8",width=1.5),layer="below"))
    fig.add_trace(go.Heatmap(z=[groups],x=list(range(12)),y=[0],xaxis=xa2,yaxis=ya2,zmin=-.5,zmax=n-.5,colorscale=cs,showscale=False,xgap=1,hoverinfo="skip"))
    # column dendrogram
    xs,ys,_=tree_segs(col_tree,False)
    H0=coldend_y[1]-coldend_y[0]
    xa3,ya3=ax(hx,coldend_y,(-.5,11.5),(0,H0))
    fig.add_trace(go.Scatter(x=xs,y=ys,xaxis=xa3,yaxis=ya3,mode="lines",line=dict(color="#444444",width=1.6),hoverinfo="skip",cliponaxis=False))
    # row dendrogram
    xs,ys,cnt=tree_segs(row_tree,True)
    assert cnt==100,cnt
    xa4,ya4=ax((rowdend_x,hx[0]),hy,(hx[0]-rowdend_x,0),(99.5,-.5))
    fig.add_trace(go.Scatter(x=xs,y=ys,xaxis=xa4,yaxis=ya4,mode="lines",line=dict(color="#555555",width=1.6),hoverinfo="skip",cliponaxis=False))
    # legend
    for (y0,y1),c,ty,name in zip(legend_boxes,condition_colors,legend_ty,condition_names):
        shapes.append(dict(type="rect",xref=PX,yref=PY,x0=legend_x[0],x1=legend_x[1],y0=y0,y1=y1,fillcolor=c,line=dict(color="#AAAAAA",width=3)))
        T(legend_tx,ty,name,34,anchor="left")

heat(heat_b,genes_b,groups_b,(2139,3399),(159,1838),(130,152),(7,128),col_tree_b,row_tree_b,2011,25,(1813,1872),
     [(55,108),(112,164),(167,219),(221,276)],[92,145,200,253],1890,(1813,1839),(320,665))
T(3405,142,"condition",25,anchor="left")
heat(heat_d,genes_d,groups_d,(2126,3390),(2211,3913),(2190.6,2206),(2123,2188),col_tree_d,row_tree_d,2026,20.5,(1841,1901),
     [(2086,2141),(2142,2195),(2198,2253),(2254,2309)],[2124,2177,2232,2285],1919,(1836,1859),(2352,2697))

# ---------- PANEL C ----------
rrect(0,2153,1190,2799,115,75,"#F7F7F7")
rrect(267,2026,961,2141,25,20,"#DDE2E1")
T(626,1968,"MOK-KO+LPS vs WT+LPS",55)
T(614,2082,"GO Biological Processes",55)
T(1475,2013,"Fold-enrichment",55.5)
xc,yc=ax((1201,1728),(2179,2773),(0,25),(9.66,-.68),
    dict(visible=True,side="top",showline=True,linecolor="black",linewidth=4,ticks="outside",ticklen=24,tickwidth=4,tickcolor="black",
         tickmode="array",tickvals=[0,5,10,15,20,25],tickfont=dict(family=FONT,size=47,color="black",weight=700)),
    dict(visible=True,showline=True,linecolor="black",linewidth=4,ticks="outside",ticklen=24,tickwidth=4,tickcolor="black",ticklabelstandoff=-7,
         tickmode="array",tickvals=list(range(10)),ticktext=go_terms,tickfont=dict(family=FONT,size=49.5,color="black",weight=700)))
fig.add_trace(go.Bar(x=go_fold,y=list(range(10)),orientation="h",xaxis=xc,yaxis=yc,width=.667,marker=dict(color="black",line=dict(width=0)),hoverinfo="skip"))
for i,(v,p) in enumerate(zip(go_fold,go_p)):
    T(v,i,p,45,anchor="left",xref=xc,yref=yc,xs=8,ys=6)

# ---------- PANEL E ----------
rrect(91,3146,373,3866,50,50,"#F7F7F7")
rrect(370,2941,1246,3076,25,25,"#F7F7F7")
T(623,2983,"Inhibited",54.7); T(1018,2985,"Activated",54.7)
poly([(412,3042),(453,3021),(453,3035),(802,3035),(802,3049),(453,3049),(453,3063)],"#EE1111")
poly([(1227,3042),(1186,3021),(1186,3035),(836,3035),(836,3049),(1186,3049),(1186,3063)],"#66EE11")
xe,ye=ax((378,1219),(3155,3863),(-8,8),(9.66,-.648),
    dict(visible=True,showline=True,linecolor="black",linewidth=5,ticks="outside",ticklen=27,tickwidth=5,tickcolor="black",
         zeroline=True,zerolinecolor="black",zerolinewidth=5,tickmode="array",tickvals=list(range(-8,9,2)),ticklabelstandoff=-6,
         ticktext=["-8","-6","-4","-2","0","2","4","6","8"],tickfont=dict(family=FONT,size=52,color="black",weight=700)),
    dict(visible=True,showline=True,linecolor="black",linewidth=5,ticks="outside",ticklen=27,tickwidth=5,tickcolor="black",ticklabelstandoff=-8,
         tickmode="array",tickvals=list(range(10)),ticktext=ipa_names,tickfont=dict(family=FONT,size=53,color="black",weight=700)))
fig.add_trace(go.Bar(x=ipa_z,y=list(range(10)),orientation="h",xaxis=xe,yaxis=ye,width=.524,hoverinfo="skip",
    marker=dict(color=["#70FF00" if v>0 else "#EE0E00" for v in ipa_z],line=dict(color="#0A0A0A",width=8))))
ipa_dy=[-4,-6,-14,-8,-2,0,0,-3,-2,3]
for i,(v,p,dy) in enumerate(zip(ipa_z,ipa_p,ipa_dy)):
    if v>0: T(0,i,p,46,anchor="right",xref=xe,yref=ye,xs=-22,ys=dy)
    else: T(0,i,p,46,anchor="left",xref=xe,yref=ye,xs=12,ys=dy)
T(32,3496,"IPA Upstream Regulators",56,rot=-90)
T(800,3985,"Z-score",46)

# ---------- PANEL F ----------
xf,yf=ax((1446,1924),(3202,3869),(-1.146,3.833),(0,6),
    dict(visible=True,showline=True,linecolor="black",linewidth=5,ticks="outside",ticklen=27,tickwidth=5,tickcolor="black",
         tickmode="array",tickvals=[0,2.667],ticktext=["",""]),
    dict(visible=True,showline=True,linecolor="black",linewidth=6,ticks="outside",ticklen=29,tickwidth=5,tickcolor="black",
         tickmode="array",tickvals=[0,2,4,6],tickfont=dict(family=FONT,size=48,color="#222222",weight=700)))
T(1561,3935,"WT",53); T(1789,3935,"MOK-KO",53)
bar_line=["#111111","#2DB808","#111111","#EE1111"]
bar_dot=["#111111","#2DB808","#111111","#EE1111"]
fig.add_trace(go.Bar(x=irf7_pos,y=irf7_mean,xaxis=xf,yaxis=yf,width=.58,hoverinfo="skip",
    marker=dict(color="white",line=dict(color=bar_line,width=7),
                pattern=dict(shape=".",fgcolor=bar_dot,bgcolor="white",size=11,solidity=.1))))
def pts(x,y,c):
    fig.add_trace(go.Scatter(x=x,y=y,xaxis=xf,yaxis=yf,mode="markers",cliponaxis=False,hoverinfo="skip",
        marker=dict(size=38,color=c,line=dict(color="#111111",width=5))))
pts(irf7_wt_ctrl_x,irf7_wt_ctrl,"white")
pts(irf7_wt_lps_x,irf7_wt_lps,"#2DB808")
pts(irf7_ko_ctrl_x,irf7_ko_ctrl,"white")
pts(irf7_ko_lps_x,irf7_ko_lps,"#EE1111")
fig.add_trace(go.Scatter(x=[p+.01 for p in irf7_pos],y=irf7_mean,xaxis=xf,yaxis=yf,mode="markers",marker=dict(size=1,opacity=0),cliponaxis=False,hoverinfo="skip",
    error_y=dict(type="data",symmetric=False,array=irf7_err,arrayminus=[0]*4,color="#111111",thickness=7,width=20)))
for x0,x1,y in [(1481,1617,3224),(1605,1899,3166),(1737,1901,3727)]:
    shapes.append(dict(type="line",xref=PX,yref=PY,x0=x0,x1=x1,y0=y,y1=y,line=dict(color="#111111",width=7)))
T(1556,3200,"**",88); T(1752,3148,"**",88); T(1816,3694,"NS",44)
T(1869,3288,"Ctrl",53,anchor="right"); T(1780,3386,"LPS",53,anchor="right")
for cx,cy,c in [(1913,3286,"white"),(1827,3383,"#5FEA1F"),(1916,3383,"#EE0E00")]:
    shapes.append(dict(type="circle",xref=PX,yref=PY,x0=cx-31,x1=cx+31,y0=cy-31,y1=cy+31,fillcolor=c,line=dict(color="#111111",width=6)))
T(1325,3521,"IRF7 rel expression (2<sup>-ΔΔCt</sup>)",53,rot=-90)

layout["shapes"]=shapes
layout["annotations"]=annos
fig.update_layout(**layout)
fig.write_html("out.html", post_script="document.body.style.margin='0';", config={"displayModeBar":False})
